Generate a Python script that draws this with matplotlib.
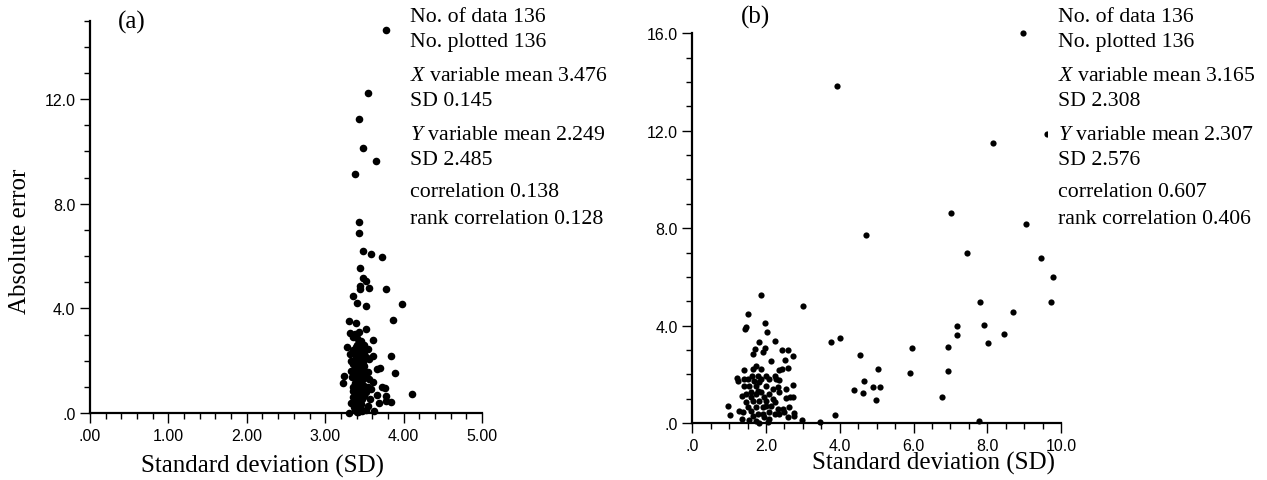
import matplotlib.pyplot as plt
from matplotlib.ticker import MultipleLocator, FixedLocator, FuncFormatter

plt.rcParams['font.family'] = ['Liberation Serif', 'DejaVu Serif']
plt.rcParams['mathtext.fontset'] = 'custom'
plt.rcParams['mathtext.rm'] = 'Liberation Serif'
plt.rcParams['mathtext.it'] = 'Liberation Serif:italic'

# (a) SD vs absolute error, narrow spread of SD
sd_a = [3.77, 3.54, 3.43, 3.48, 3.65, 3.38, 3.43, 3.43, 3.48, 3.58, 3.73, 3.44,
        3.48, 3.52, 3.44, 3.44, 3.56, 3.77, 3.35, 3.40, 3.52, 3.98, 3.86, 3.30,
        3.39, 3.52, 3.32, 3.43, 3.38, 3.61, 3.43, 3.28, 3.39, 3.45, 3.54, 3.38,
        3.50, 3.61, 3.84, 3.52, 3.33, 3.42, 3.48, 3.39, 3.50, 3.37, 3.45, 3.70,
        3.66, 3.52, 3.40, 3.89, 3.24, 3.34, 3.43, 3.48, 3.56, 3.61, 3.23, 3.37,
        3.44, 3.50, 3.73, 3.76, 3.59, 4.11, 3.66, 3.77, 3.39, 3.48, 3.77, 3.84,
        3.68, 3.33, 3.43, 3.37, 3.45, 3.52, 3.62, 3.30, 3.40,
        3.36, 3.41, 3.46, 3.40, 3.44, 3.36, 3.42, 3.47, 3.39, 3.44, 3.46, 3.40,
        3.36, 3.43, 3.47, 3.41, 3.37, 3.45, 3.50, 3.39, 3.42, 3.46, 3.38, 3.44,
        3.48, 3.41, 3.36, 3.45, 3.52, 3.40, 3.43, 3.47, 3.38, 3.42, 3.46, 3.40,
        3.44, 3.38, 3.42, 3.47, 3.35, 3.50, 3.55, 3.54, 3.56, 3.33, 3.31, 3.49,
        3.57, 3.55, 3.35, 3.48, 3.40]
err_a = [14.63, 12.23, 11.23, 10.13, 9.62, 9.12, 7.29, 6.88, 6.20, 6.08, 5.95, 5.53,
         5.18, 5.06, 4.87, 4.74, 4.78, 4.74, 4.48, 4.20, 4.10, 4.17, 3.55, 3.50,
         3.44, 3.21, 3.05, 3.11, 3.02, 2.80, 2.70, 2.53, 2.51, 2.48, 2.44, 2.34,
         2.34, 2.17, 2.17, 2.13, 2.00, 2.00, 1.94, 1.81, 1.81, 1.66, 1.66, 1.71,
         1.68, 1.55, 1.48, 1.52, 1.43, 1.36, 1.33, 1.30, 1.30, 1.17, 1.13, 0.98,
         1.02, 1.05, 1.01, 0.95, 0.90, 0.73, 0.70, 0.66, 0.73, 0.73, 0.47, 0.43,
         0.40, 0.38, 0.40, 0.22, 0.25, 0.13, 0.09, 0.00, 0.05,
         2.90, 2.87, 2.75, 2.60, 2.62, 2.42, 2.40, 2.20, 2.15, 2.25, 2.05, 1.92,
         1.88, 1.75, 1.72, 1.60, 1.52, 1.50, 1.45, 1.40, 1.25, 1.20, 1.15, 1.10,
         0.98, 0.92, 0.85, 0.82, 0.80, 0.70, 0.62, 0.55, 0.52, 0.45, 0.35, 0.30,
         0.18, 0.10, 0.05, 0.08, 0.62, 0.65, 1.00, 1.58, 2.05, 1.62, 2.25, 2.60,
         0.55, 0.25, 1.00, 1.85, 1.08]

# (b) SD vs absolute error, wide spread of SD
sd_b = [8.98, 3.92, 8.16, 7.01, 9.04, 4.72, 7.46, 9.45, 9.78, 9.74, 7.80, 8.71,
        2.99, 1.87, 7.19, 7.91, 7.19, 8.46, 8.03, 3.77, 4.01, 5.96, 6.94, 4.55,
        5.03, 5.91, 6.93, 4.66, 4.39, 4.62, 4.91, 5.09, 4.99, 6.78, 7.78, 3.88,
        3.46, 2.97, 9.62,
        1.52, 1.43, 1.45, 1.97, 2.03, 1.82, 2.25, 1.71, 1.97, 2.43, 2.59, 1.64,
        1.91, 2.13, 2.73, 1.41, 1.65, 1.62, 1.21, 1.24, 1.40, 2.36, 2.51, 2.59,
        2.42, 2.36, 2.73, 2.64, 2.73, 2.55, 0.98, 1.02, 1.38, 1.59, 1.73, 1.77,
        1.36, 1.53, 1.73, 1.80, 2.05, 1.91, 2.09, 2.23, 2.36, 2.50, 2.75, 2.75,
        1.73, 1.86, 2.00, 2.07, 1.55, 1.59, 1.45, 1.36, 1.73, 1.86, 1.95, 1.82,
        1.64, 1.45, 2.18, 2.32, 2.18, 2.14, 2.00, 2.36, 2.27, 1.68, 1.77, 1.41,
        1.50, 1.91, 2.62, 2.00, 1.86, 1.73, 1.59, 2.09, 2.45, 1.27, 1.95, 2.23,
        1.77, 1.50, 2.55, 1.64, 2.09, 2.32, 1.82, 2.00, 2.23, 2.59]
err_b = [16.00, 13.83, 11.49, 8.61, 8.16, 7.70, 6.98, 6.76, 6.01, 4.95, 4.95, 4.57,
         4.79, 5.24, 4.00, 4.04, 3.61, 3.65, 3.28, 3.34, 3.49, 3.08, 3.11, 2.80,
         2.20, 2.05, 2.15, 1.71, 1.37, 1.23, 1.48, 1.48, 0.96, 1.08, 0.10, 0.33,
         0.05, 0.14, 11.86,
         4.46, 3.86, 3.93, 4.09, 3.75, 3.31, 3.37, 3.04, 3.08, 3.01, 3.01, 2.83,
         2.93, 2.54, 2.74, 2.19, 2.22, 1.92, 1.83, 1.74, 1.81, 2.18, 2.59, 2.24,
         2.22, 1.78, 1.56, 1.05, 1.05, 1.04, 0.68, 0.33, 0.44, 0.51, 0.64, 0.37,
         0.16, 0.14, 0.10, 0.00, 0.03, 0.37, 0.44, 0.37, 0.37, 0.44, 0.41, 0.27,
         1.53, 1.81, 1.94, 1.81, 1.53, 1.26, 1.19, 1.12, 1.19, 1.26, 1.05, 0.92,
         0.92, 0.85, 1.40, 1.46, 0.98, 0.71, 0.71, 1.26, 1.81, 1.74, 1.33, 1.53,
         0.64, 0.64, 0.64, 1.53, 2.22, 2.35, 1.05, 1.19, 0.57, 0.51, 0.23, 1.94,
         1.94, 1.81, 1.40, 0.30, 0.16, 0.57, 1.67, 0.92, 0.85, 0.23]

stats_a = ["No. of data 136", "No. plotted 136",
           "$\\it{X}$ variable mean 3.476", "SD 0.145",
           "$\\it{Y}$ variable mean 2.249", "SD 2.485",
           "correlation 0.138", "rank correlation 0.128"]
stats_b = ["No. of data 136", "No. plotted 136",
           "$\\it{X}$ variable mean 3.165", "SD 2.308",
           "$\\it{Y}$ variable mean 2.307", "SD 2.576",
           "correlation 0.607", "rank correlation 0.406"]

W, H = 1267, 481
fig = plt.figure(figsize=(W / 100, H / 100), dpi=100)


def no_lead_zero(fmt):
    return FuncFormatter(lambda v, p: (fmt % v).lstrip('0') if v < 1 else fmt % v)


def style_axes(ax):
    for side in ('top', 'right'):
        ax.spines[side].set_visible(False)
    for side in ('left', 'bottom'):
        ax.spines[side].set_linewidth(1.6)
    ax.tick_params(which='major', direction='out', length=7, width=1,
                   labelsize=11.5, labelfontfamily='Liberation Sans')
    ax.tick_params(which='minor', direction='out', length=4, width=1)


def add_stats(lines, x):
    ys = [17, 43, 77, 102, 135, 161, 193, 220]
    for i, (s, y) in enumerate(zip(lines, ys)):
        kw = {}
        if i == 4:
            kw = dict(bbox=dict(fc='white', ec='none', boxstyle='square,pad=0.45'), zorder=2)
        fig.text(x / W, 1 - y / H, s, fontsize=15.7, va='center', ha='left', **kw)


# panel (a)
ax1 = fig.add_axes([90 / W, 1 - 414 / H, 392 / W, 392.3 / H])
ax1.scatter(sd_a, err_a, s=30, c='black', linewidths=0, clip_on=False, zorder=3)
ax1.set_xlim(0, 5)
ax1.set_ylim(0, 15)
ax1.xaxis.set_major_locator(MultipleLocator(1))
ax1.xaxis.set_minor_locator(MultipleLocator(0.2))
ax1.yaxis.set_major_locator(FixedLocator([0, 4, 8, 12]))
ax1.yaxis.set_minor_locator(MultipleLocator(1))
ax1.xaxis.set_major_formatter(no_lead_zero('%.2f'))
ax1.yaxis.set_major_formatter(no_lead_zero('%.1f'))
style_axes(ax1)
ax1.set_xlabel('Standard deviation (SD)', fontsize=18, va='center')
ax1.xaxis.set_label_coords(0.44, (414 - 466) / 392.3)
ax1.set_ylabel('Absolute error', fontsize=18, va='center')
ax1.yaxis.set_label_coords((20 - 90) / 392, 0.44)
fig.text(132 / W, 1 - 22 / H, '(a)', fontsize=18, ha='center', va='center')
add_stats(stats_a, 410)

# panel (b)
ax2 = fig.add_axes([692.3 / W, 1 - 424 / H, 368.7 / W, 389.7 / H])
ax2.scatter(sd_b, err_b, s=20, c='black', linewidths=0, clip_on=False, zorder=3)
ax2.set_xlim(0, 10)
ax2.set_ylim(0, 16)
ax2.xaxis.set_major_locator(MultipleLocator(2))
ax2.xaxis.set_minor_locator(MultipleLocator(0.5))
ax2.yaxis.set_major_locator(MultipleLocator(4))
ax2.yaxis.set_minor_locator(MultipleLocator(1))
ax2.xaxis.set_major_formatter(no_lead_zero('%.1f'))
ax2.yaxis.set_major_formatter(no_lead_zero('%.1f'))
style_axes(ax2)
ax2.set_xlabel('Standard deviation (SD)', fontsize=18, va='center')
ax2.xaxis.set_label_coords(0.653, (424 - 463) / 389.7)
fig.text(756 / W, 1 - 17 / H, '(b)', fontsize=18, ha='center', va='center')
add_stats(stats_b, 1058)

fig.savefig('out.png', dpi=100)
